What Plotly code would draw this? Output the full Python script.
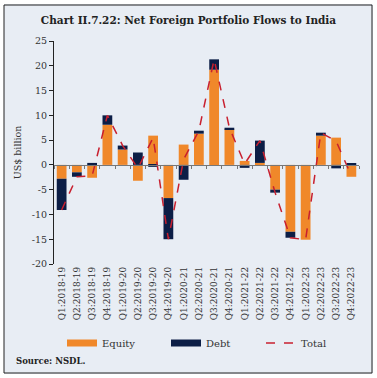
import plotly.graph_objects as go

quarters = ["Q1:2018-19", "Q2:2018-19", "Q3:2018-19", "Q4:2018-19",
            "Q1:2019-20", "Q2:2019-20", "Q3:2019-20", "Q4:2019-20",
            "Q1:2020-21", "Q2:2020-21", "Q3:2020-21", "Q4:2020-21",
            "Q1:2021-22", "Q2:2021-22", "Q3:2021-22", "Q4:2021-22",
            "Q1:2022-23", "Q2:2022-23", "Q3:2022-23", "Q4:2022-23"]
equity = [-2.8, -1.5, -2.6, 8.1, 3.1, -3.2, 5.9, -6.7, 4.1, 6.3,
          19.2, 7.2, 0.8, 0.4, -5.0, -13.5, -15.1, 5.9, 5.5, -2.4]
debt = [-6.3, -0.9, 0.4, 1.9, 0.8, 2.5, -0.4, -8.3, -3.0, 0.6,
        2.1, 0.3, -0.6, 4.5, -0.6, -1.2, 0.0, 0.6, -0.7, 0.2]
total = [-9.1, -2.4, -2.2, 10.0, 3.9, -0.7, 5.5, -15.0, 1.1, 6.9,
         21.3, 7.5, 0.2, 4.9, -5.6, -14.7, -15.1, 6.5, 4.8, -2.2]
y_ticks = [-20, -15, -10, -5, 0, 5, 10, 15, 20, 25]
y_labels = ["-20", "-15", "-10", "-5", "0", "5", "10", "15", "20", "25"]

ORANGE = "#F0882A"
NAVY = "#0C1E46"
RED = "#C8202F"
BG = "#E8EDF4"
FONT = "DejaVu Serif"

W, H = 377, 378
ML, MR, MT, MB = 54, 18, 41, 114
pw = W - ML - MR
ph = H - MT - MB

def px_x(p):
    return (p - ML) / pw

def px_y(p):
    return (H - MB - p) / ph

fig = go.Figure()
fig.add_trace(go.Bar(x=quarters, y=equity, name="Equity", marker_color=ORANGE,
                     marker_line_width=0, showlegend=False))
fig.add_trace(go.Bar(x=quarters, y=debt, name="Debt", marker_color=NAVY,
                     marker_line_width=0, showlegend=False))
fig.add_trace(go.Scatter(x=quarters, y=total, name="Total", mode="lines",
                         xaxis="x2",
                         line=dict(color=RED, width=1.5, dash="dash"),
                         showlegend=False))
# legend entries (wide swatches), one legend each so they can be spaced
fig.add_trace(go.Scatter(x=[None], y=[None], name="Equity", mode="lines",
                         line=dict(color=ORANGE, width=7), legend="legend"))
fig.add_trace(go.Scatter(x=[None], y=[None], name="Debt", mode="lines",
                         line=dict(color=NAVY, width=7), legend="legend2"))
fig.add_trace(go.Scatter(x=[None], y=[None], name="Total", mode="lines",
                         line=dict(color=RED, width=1.5, dash="dash"),
                         legend="legend3"))

zero_frac = (0 - y_ticks[0]) / (y_ticks[-1] - y_ticks[0])

def leg(xpx):
    return dict(orientation="h", x=px_x(xpx), xanchor="left",
                y=px_y(343), yanchor="middle", bgcolor="rgba(0,0,0,0)",
                font=dict(family=FONT, size=10, color="#333"))

fig.update_layout(
    width=W, height=H,
    margin=dict(l=ML, r=MR, t=MT, b=MB, pad=0, autoexpand=False),
    paper_bgcolor=BG,
    plot_bgcolor="rgba(0,0,0,0)",
    barmode="relative",
    bargap=0.36,
    font=dict(family=FONT, size=9, color="#222"),
    title=dict(text="<b>Chart II.7.22: Net Foreign Portfolio Flows to India</b>",
               x=0.5, xref="container", xanchor="center",
               y=1 - 20 / H, yanchor="middle",
               font=dict(family=FONT, size=10.5, color="#222")),
    xaxis=dict(type="category", categoryarray=quarters, categoryorder="array",
               range=[-0.5, len(quarters) - 0.5],
               showline=False, ticks="", tickangle=-90,
               tickfont=dict(family=FONT, size=9, color="#333"),
               showgrid=False, zeroline=False),
    xaxis2=dict(type="category", categoryarray=quarters, categoryorder="array",
                range=[-0.5, len(quarters) - 0.5],
                overlaying="x", anchor="free", position=zero_frac,
                showline=True, linecolor="#777", linewidth=1,
                ticks="outside", tickson="boundaries", ticklen=3,
                tickcolor="#777", showticklabels=False, showgrid=False,
                zeroline=False),
    yaxis=dict(range=[y_ticks[0], y_ticks[-1]], tickvals=y_ticks, ticktext=y_labels,
               showline=True, linecolor="#222", linewidth=1,
               ticks="outside", ticklen=4, tickcolor="#222",
               tickfont=dict(family=FONT, size=9.5, color="#333"),
               showgrid=False, zeroline=False,
               title=dict(text="US$ billion", standoff=8,
                          font=dict(family=FONT, size=9.5, color="#333"))),
    legend=leg(62),
    legend2=leg(166),
    legend3=leg(261),
    shapes=[dict(type="rect", xref="paper", yref="paper", layer="above",
                 x0=px_x(0), x1=px_x(W), y0=px_y(H), y1=px_y(0),
                 line=dict(color="white", width=8)),
            dict(type="rect", xref="paper", yref="paper", layer="above",
                 x0=px_x(4), x1=px_x(372), y0=px_y(373), y1=px_y(5),
                 line=dict(color="#222", width=1))],
    annotations=[dict(text="<b>Source: NSDL.</b>", xref="paper", yref="paper",
                      x=px_x(14), y=px_y(361), xanchor="left", yanchor="middle",
                      showarrow=False,
                      font=dict(family=FONT, size=8.5, color="#222"))],
)

fig.write_html("out.html", config={"displayModeBar": False},
               post_script="document.body.style.margin='0';")
